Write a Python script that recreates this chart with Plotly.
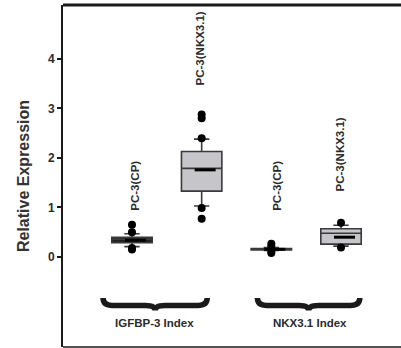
import plotly.graph_objects as go

# ---- data ----
positions = [1, 2, 3, 4]
group_labels = ["PC-3(CP)", "PC-3(NKX3.1)", "PC-3(CP)", "PC-3(NKX3.1)"]
q1 = [0.29, 1.33, 0.14, 0.26]
median = [0.36, 1.79, 0.155, 0.48]
q3 = [0.40, 2.13, 0.17, 0.57]
lowerfence = [0.21, 1.03, 0.13, 0.22]
upperfence = [0.47, 2.38, 0.19, 0.64]
means = [0.34, 1.76, 0.155, 0.40]
outliers = [
    [0.65, 0.50, 0.18, 0.15],
    [2.88, 2.80, 2.40, 0.99, 0.77],
    [0.27, 0.21, 0.11, 0.08],
    [0.69, 0.19],
]
box_fill = ["#202020", "#c6c6ca", "#202020", "#c6c6ca"]
label_x = [1.04, 1.98, 3.08, 3.99]
label_bottom = [0.89, 3.43, 0.89, 1.29]

index_names = ["IGFBP-3 Index", "NKX3.1 Index"]
index_x = [1.33, 3.55]
brace_left = [0.585, 2.80]
brace_right = [2.08, 4.27]

y_ticks = [0, 1, 2, 3, 4]

FONT = "Liberation Sans, Arial, sans-serif"
TXT = "#2b2b2b"
DARK = "#1a1a1a"

fig = go.Figure()

for i, p in enumerate(positions):
    fig.add_trace(go.Box(
        x=[p], q1=[q1[i]], median=[median[i]], q3=[q3[i]],
        lowerfence=[lowerfence[i]], upperfence=[upperfence[i]],
        width=0.58, whiskerwidth=0.38,
        fillcolor=box_fill[i], line=dict(color="#3a3a3a", width=1.6),
        boxpoints=False, showlegend=False, hoverinfo="skip",
    ))
    fig.add_trace(go.Scatter(
        x=[p] * len(outliers[i]), y=outliers[i], mode="markers",
        marker=dict(color="black", size=8), showlegend=False, hoverinfo="skip",
    ))

# mean markers
fig.add_trace(go.Scatter(
    x=[p + 0.05 for p in positions], y=means, mode="markers",
    marker=dict(symbol="line-ew", size=15, line=dict(color="black", width=3)),
    showlegend=False, hoverinfo="skip",
))

# rotated group labels
for i, p in enumerate(positions):
    fig.add_annotation(
        x=label_x[i], y=label_bottom[i], text=f"<b>{group_labels[i]}</b>", textangle=-90,
        showarrow=False, xanchor="center", yanchor="bottom",
        font=dict(family=FONT, size=11.5, color=TXT),
    )

# braces + index labels
ytop, ymid, ytip = -0.83, -0.98, -1.08
for k in range(2):
    x0, x1, xc = brace_left[k], brace_right[k], (brace_left[k] + brace_right[k]) / 2
    d = 0.14
    path = (f"M {x0},{ytop} Q {x0},{ymid} {x0+d},{ymid} "
            f"L {xc-d},{ymid} Q {xc},{ymid} {xc},{ytip} "
            f"Q {xc},{ymid} {xc+d},{ymid} L {x1-d},{ymid} Q {x1},{ymid} {x1},{ytop}")
    fig.add_shape(type="path", path=path, xref="x", yref="y",
                  line=dict(color=DARK, width=5.5))
    fig.add_annotation(
        x=index_x[k], y=-1.33, text=f"<b>{index_names[k]}</b>", showarrow=False,
        xanchor="center", yanchor="middle",
        font=dict(family=FONT, size=11.5, color=TXT),
    )

# frame: thick top, thin bottom
fig.add_shape(type="line", xref="paper", yref="paper", x0=0, x1=1, y0=1, y1=1,
              line=dict(color=DARK, width=3))
fig.add_shape(type="line", xref="paper", yref="paper", x0=0, x1=1, y0=0, y1=0,
              line=dict(color=DARK, width=1.5))

fig.update_layout(
    width=401, height=348,
    margin=dict(l=63, r=0, t=5, b=1),
    plot_bgcolor="white", paper_bgcolor="white",
    xaxis=dict(range=[0.01, 4.861], showticklabels=False, ticks="",
               showgrid=False, zeroline=False, showline=False),
    yaxis=dict(range=[-1.818, 5.09], tickvals=y_ticks,
               ticktext=[f"<b>{v}</b>" for v in y_ticks],
               ticks="outside", ticklen=4, tickwidth=1.5, tickcolor=DARK,
               tickfont=dict(family=FONT, size=12, color=TXT),
               showgrid=False, zeroline=False, showline=True,
               linecolor=DARK, linewidth=2,
               title=dict(text="<b>Relative Expression</b>",
                          font=dict(family=FONT, size=16, color="#333333"),
                          standoff=14)),
)

fig.write_html("out.html")
